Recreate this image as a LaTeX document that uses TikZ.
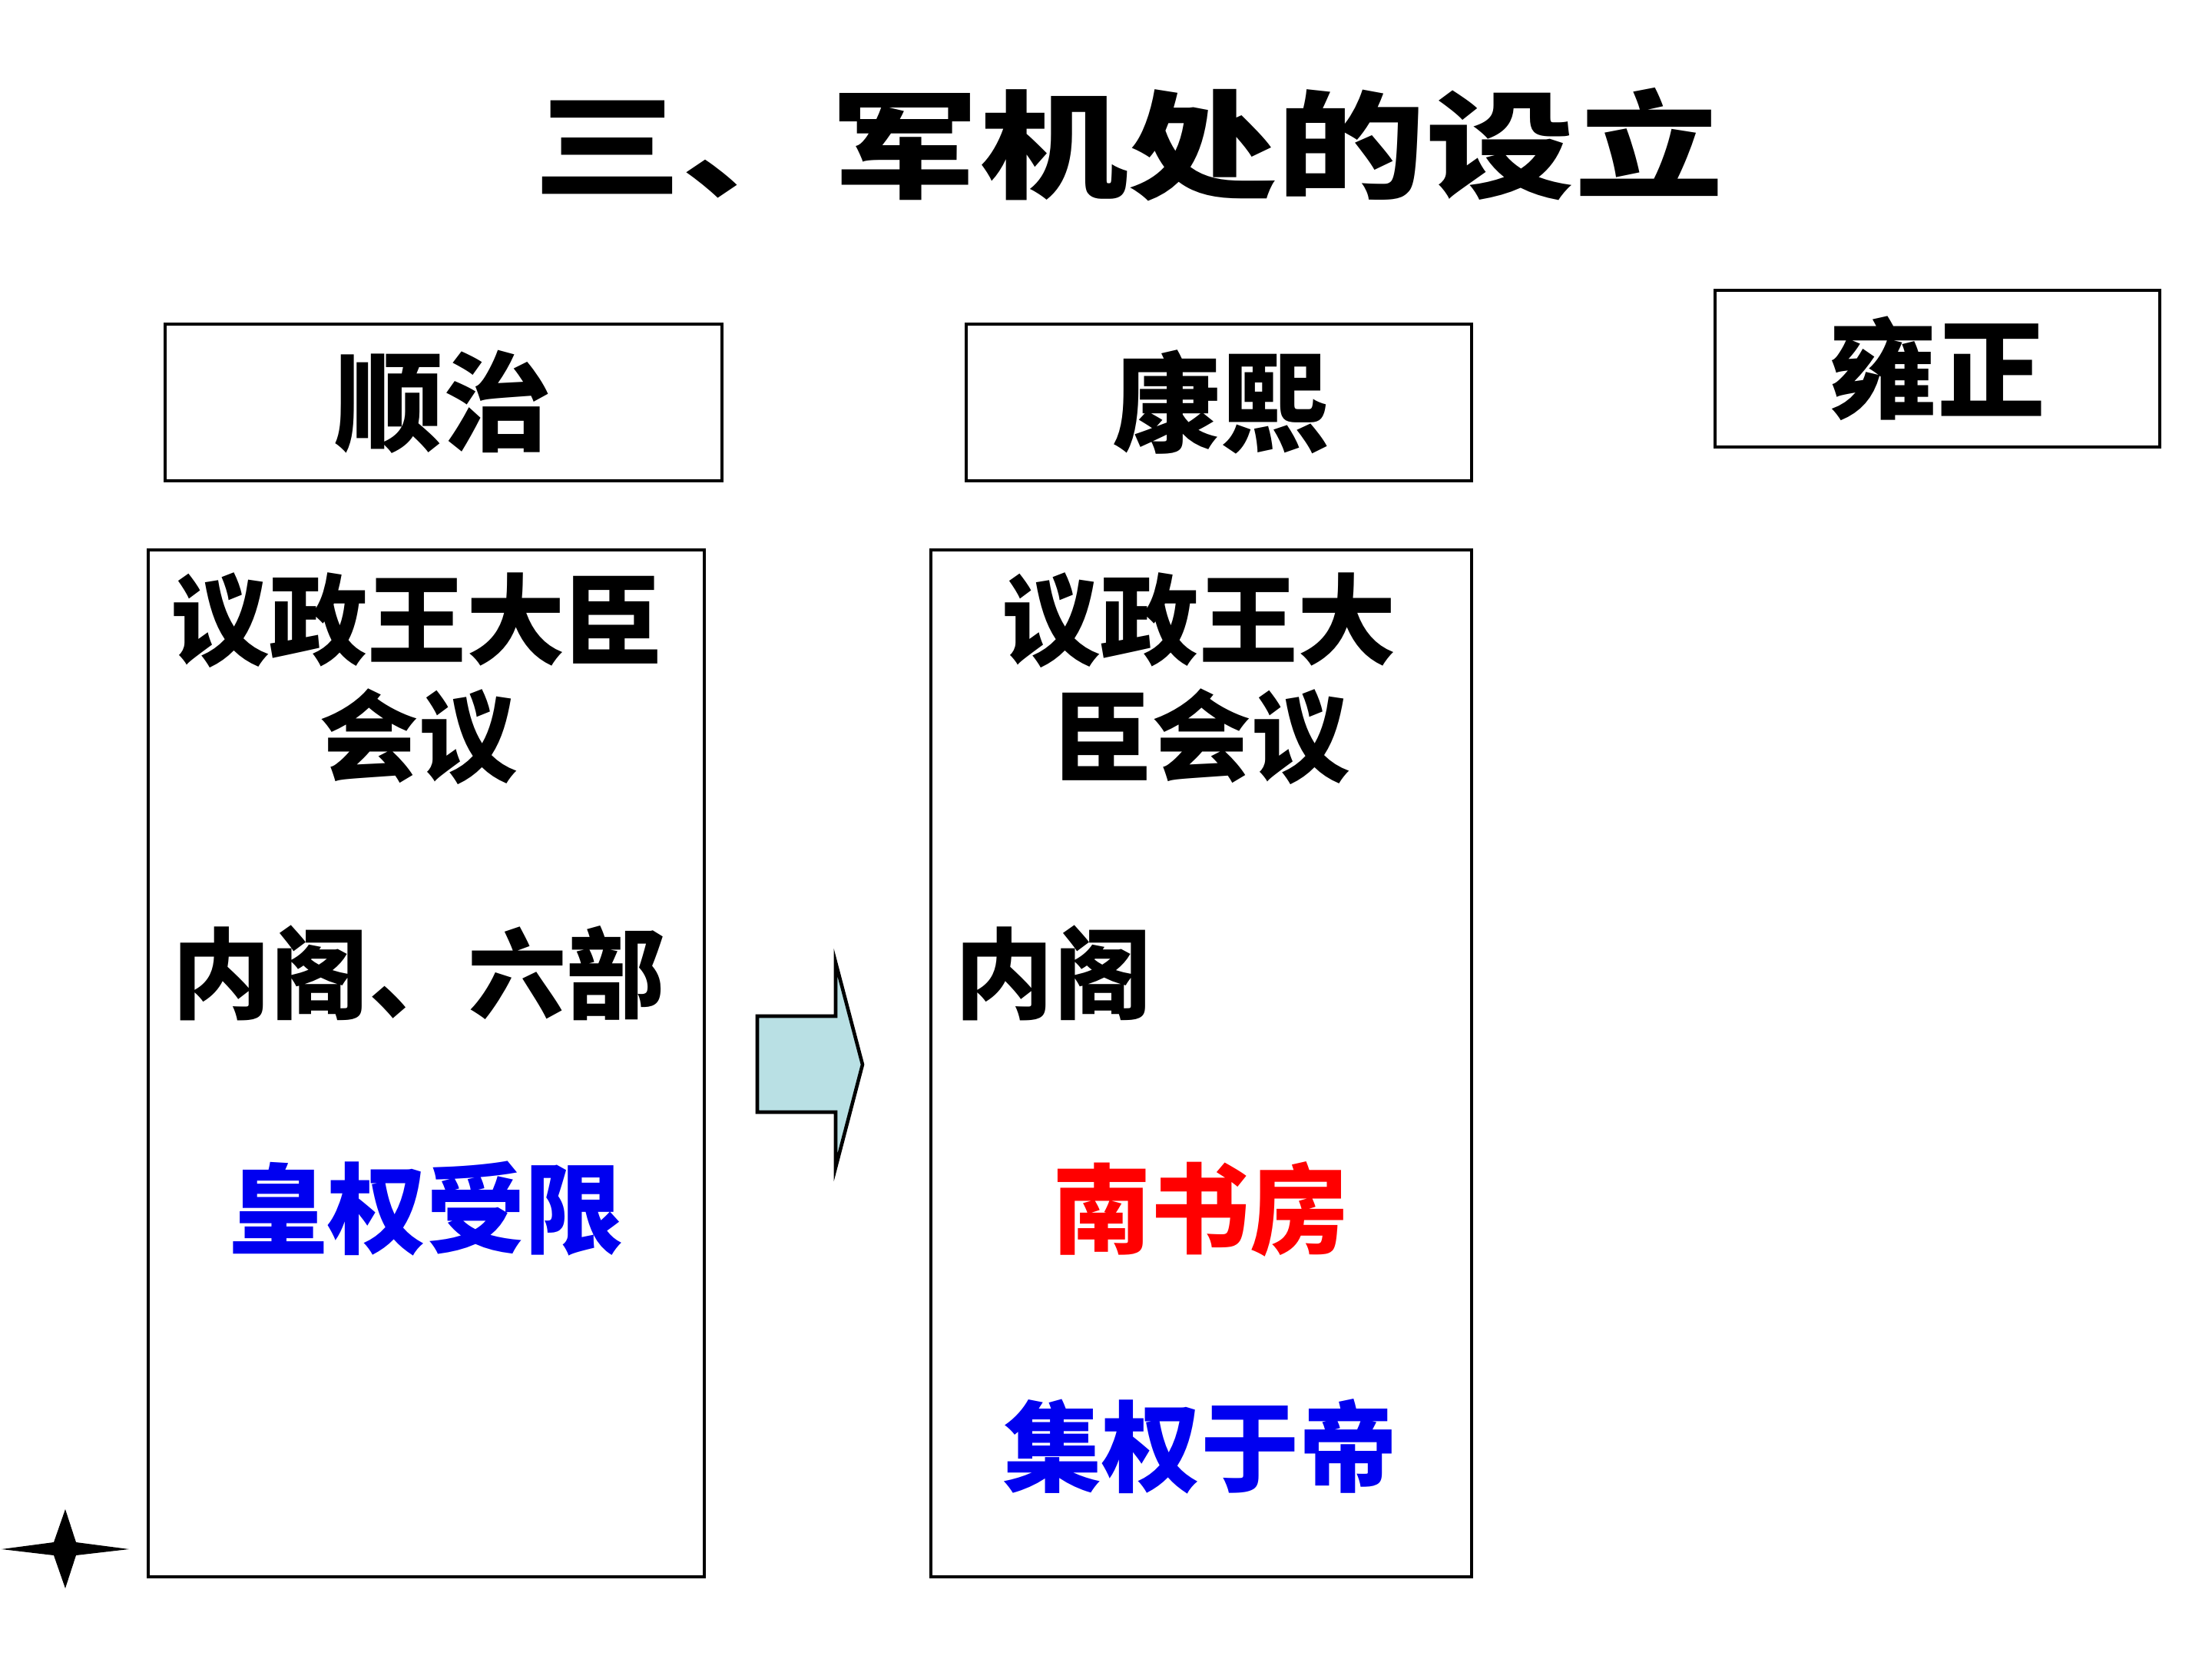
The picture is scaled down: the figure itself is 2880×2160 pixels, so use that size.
\documentclass[tikz,border=0pt]{standalone}
\usepackage{fontspec}
\newfontfamily\cjk{Noto Sans CJK SC}
\newfontfamily\cjktitle{Noto Sans CJK SC Black}
\definecolor{arrowfill}{RGB}{185,224,228}
\definecolor{txtblue}{RGB}{0,0,240}
\definecolor{txtred}{RGB}{255,0,0}
\tikzset{
  frame/.style={draw=black, line width=1pt},
  head/.style={inner sep=0pt, font=\cjk\bfseries\fontsize{40pt}{40pt}\selectfont},
  body/.style={inner sep=0pt, font=\cjk\bfseries\fontsize{36.5pt}{36.5pt}\selectfont},
}
\begin{document}
\begin{tikzpicture}[x=0.01cm,y=-0.01cm]
\useasboundingbox (0,0) rectangle (2880,2160);
% title
\node[inner sep=0pt, font=\cjktitle\fontsize{54pt}{54pt}\selectfont] (title) at (1469,188) {\scalebox{1.02}[0.8]{三、军机处的设立}};
% header boxes
\draw[frame] (215,422) rectangle (940,626);
\draw[frame] (1258,422) rectangle (1916,626);
\draw[frame] (2233,378) rectangle (2812,582);
\node[head] (shunzhi) at (577,523) {顺治};
\node[head] (kangxi) at (1589,523) {康熙};
\node[head] (yongzheng) at (2522,480) {雍正};
% big boxes
\draw[frame] (193,716) rectangle (917,2053);
\draw[frame] (1212,716) rectangle (1916,2053);
% left texts
\node[body] (l1) at (543,808) {议政王大臣};
\node[body] (l2) at (545,959) {会议};
\node[body] (l3) at (545,1267) {内阁、六部};
\node[body, text=txtblue] (l4) at (555,1574) {皇权受限};
% right texts
\node[body] (r1) at (1561,808) {议政王大};
\node[body] (r2) at (1565,959) {臣会议};
\node[body] (r3) at (1372,1267) {内阁};
\node[body, text=txtred] (r4) at (1563,1574) {南书房};
\node[body, text=txtblue] (r5) at (1563,1883) {集权于帝};
% arrow
\draw[fill=arrowfill, line width=1.3pt, line join=miter]
  (986,1323) -- (1088,1323) -- (1088,1253) -- (1123,1386) -- (1088,1520)
  -- (1088,1448) -- (986,1448) -- cycle;
% star
\fill[black] (2,2017) -- (70,2008) -- (85,1965) -- (99,2008) -- (168,2017)
  -- (99,2025) -- (85,2068) -- (70,2025) -- cycle;
\end{tikzpicture}
\end{document}
